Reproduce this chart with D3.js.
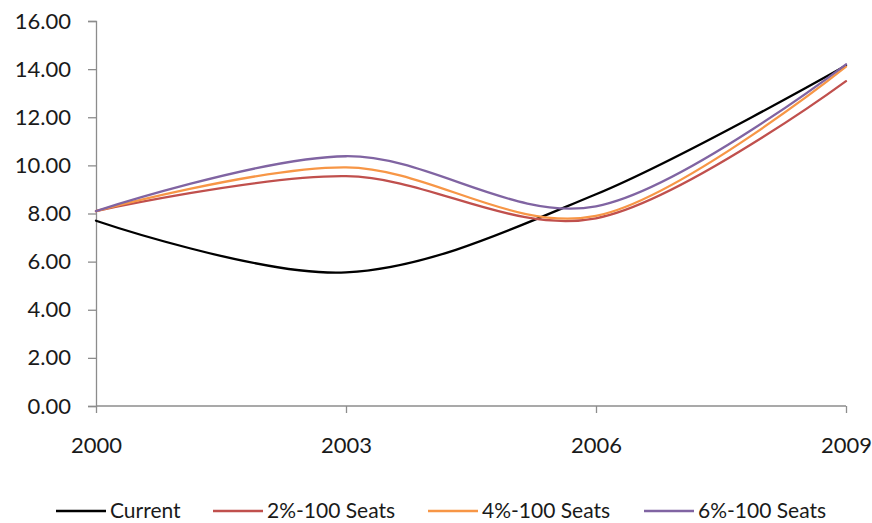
<!DOCTYPE html>
<html>
<head>
<meta charset="utf-8">
<script src="https://cdn.jsdelivr.net/npm/d3@7"></script>
<style>
  html, body { margin: 0; padding: 0; background: #fff; }
  svg text { font-family: Lato, "Open Sans", sans-serif; fill: #1a1a1a; }
</style>
</head>
<body>
<svg id="chart" width="872" height="523"></svg>
<script>
// Years along the x axis
const years = [2000, 2003, 2006, 2009];

// Series values per year
const current   = [7.70, 5.55, 8.80, 14.15];
const seats2pct = [8.10, 9.55, 7.80, 13.50];
const seats4pct = [8.10, 9.92, 7.90, 14.10];
const seats6pct = [8.10, 10.38, 8.30, 14.20];

const seriesNames = ["Current", "2%-100 Seats", "4%-100 Seats", "6%-100 Seats"];
const seriesColors = ["#000000", "#C0504D", "#F79646", "#8064A2"];
const seriesValues = [current, seats2pct, seats4pct, seats6pct];

const yTicks = [0, 2, 4, 6, 8, 10, 12, 14, 16];

const svg = d3.select("#chart");
const plotLeft = 96, plotRight = 846, plotTop = 21, plotBottom = 406;

const x = d3.scaleLinear().domain([2000, 2009]).range([plotLeft, plotRight]);
const y = d3.scaleLinear().domain([0, 16]).range([plotBottom, plotTop]);

// Y axis
const yAxis = d3.axisLeft(y).tickValues(yTicks).tickSize(8).tickPadding(17)
  .tickFormat(d3.format(".2f"));
const gy = svg.append("g").attr("transform", `translate(${plotLeft},0)`).call(yAxis);
gy.select(".domain").attr("stroke", "#8c8c8c").attr("stroke-width", 1.3);
gy.selectAll(".tick line").attr("stroke", "#8c8c8c").attr("stroke-width", 1.3);
gy.selectAll(".tick text").attr("font-size", 22).attr("fill", "#1a1a1a")
  .style("font-family", "Lato, 'Open Sans', sans-serif");

// X axis
const xAxis = d3.axisBottom(x).tickValues(years).tickSize(7).tickPadding(24)
  .tickFormat(d3.format("d"));
const gx = svg.append("g").attr("transform", `translate(0,${plotBottom})`).call(xAxis);
gx.select(".domain").attr("d", `M${plotLeft},0H${plotRight}`).attr("stroke", "#8c8c8c").attr("stroke-width", 1.3);
gx.selectAll(".tick line").attr("stroke", "#8c8c8c").attr("stroke-width", 1.3);
gx.selectAll(".tick text").attr("font-size", 22).attr("fill", "#1a1a1a")
  .style("font-family", "Lato, 'Open Sans', sans-serif");

// Smoothed series lines
const line = d3.line()
  .x((d, i) => x(years[i]))
  .y(d => y(d))
  .curve(d3.curveCardinal.tension(0));

svg.append("g").selectAll("path")
  .data(seriesValues)
  .join("path")
  .attr("d", d => line(d))
  .attr("fill", "none")
  .attr("stroke", (d, i) => seriesColors[i])
  .attr("stroke-width", 2.3)
  .attr("stroke-linecap", "round");

// Legend
const legendX = [56, 213, 428, 644];
const legend = svg.append("g").attr("transform", "translate(0,511)");
const items = legend.selectAll("g").data(seriesNames).join("g")
  .attr("transform", (d, i) => `translate(${legendX[i]},0)`);
items.append("line").attr("x1", 0).attr("x2", 50).attr("y1", 0).attr("y2", 0)
  .attr("stroke", (d, i) => seriesColors[i]).attr("stroke-width", 2.3);
items.append("text").attr("x", 54).attr("y", 0).attr("dy", "0.35em")
  .attr("font-size", 21).text(d => d);
</script>
</body>
</html>
